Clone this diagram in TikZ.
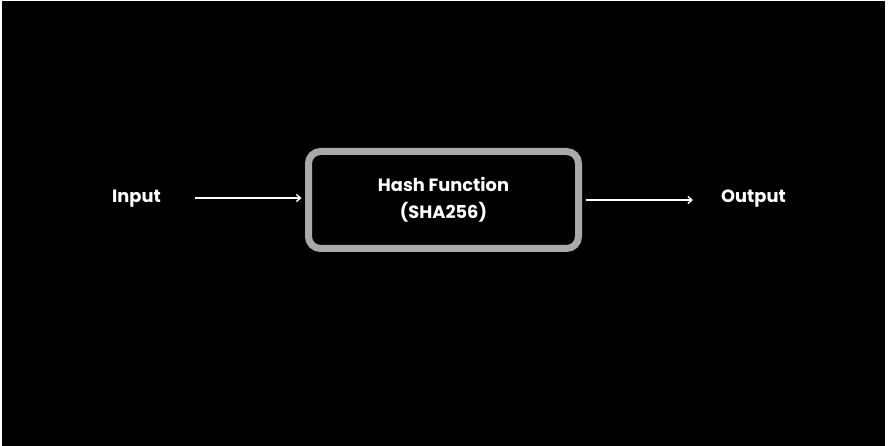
\documentclass[tikz,border=0pt]{standalone}
\usepackage{fontspec}
\setmainfont{Poppins}
\usetikzlibrary{arrows.meta,positioning}
\definecolor{boxgray}{HTML}{A9A9A9}

\begin{document}
\begin{tikzpicture}[
    x=1pt, y=-1pt,
    label/.style={text=white, font=\fontsize{17.8}{20}\selectfont\bfseries, inner sep=2pt},
    hashbox/.style={draw=boxgray, line width=7pt, rounded corners=12pt, fill=black,
      minimum width=270pt, minimum height=97pt, text=white, align=center,
      font=\fontsize{17.8}{27}\selectfont\bfseries},
    flow/.style={-{Straight Barb[length=4pt,width=7pt]}, white, line width=1.4pt},
  ]
    % Background
    \fill[white] (0,0) rectangle (892,446);
    \fill[black] (2,1) rectangle (885,446);
    \useasboundingbox (0,0) rectangle (892,446);

    % Nodes
    \node[hashbox] (hash) at (443.5,200) {Hash Function\\(SHA256)};
    \node[label, anchor=west] (in) at (110,199) {Input};
    \node[label, anchor=west] (out) at (719,199) {Output};

    % Flow
    \draw[flow, shorten <=32pt, shorten >=3.5pt] (in.east |- 0,198) -- (hash.west |- 0,198);
    \draw[flow, shorten <=3.5pt, shorten >=26pt] (hash.east |- 0,200) -- (out.west |- 0,200);
  \end{tikzpicture}
\end{document}
